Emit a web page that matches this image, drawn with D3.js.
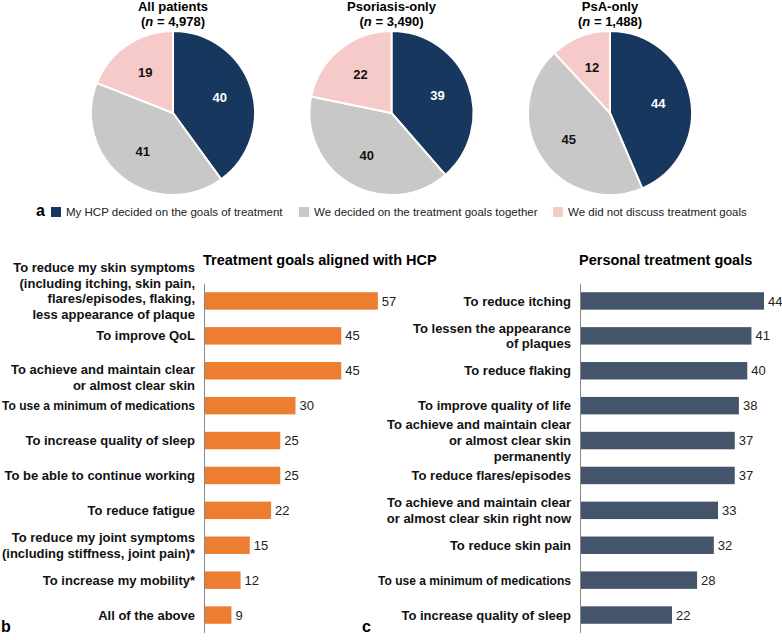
<html>
<head>
<script src="https://d3js.org/d3.v7.min.js"></script>
<style>
body { margin: 0; background: #fff; }
svg { font-family: "Liberation Sans", Arial, sans-serif; }
</style>
</head>
<body>
<svg width="782" height="640"></svg>
<script>
// pie data (percent)
var pieTitles = ["All patients", "Psoriasis-only", "PsA-only"];
var pieN = ["4,978", "3,490", "1,488"];
var pieCategories = ["My HCP decided on the goals of treatment",
                     "We decided on the treatment goals together",
                     "We did not discuss treatment goals"];
var pieAll = [40, 41, 19];
var piePso = [39, 40, 22];
var piePsA = [44, 45, 12];

// panel b
var hcpGoals = ["To reduce my skin symptoms|(including itching, skin pain,|flares/episodes, flaking,|less appearance of plaque",
  "To improve QoL",
  "To achieve and maintain clear|or almost clear skin",
  "To use a minimum of medications",
  "To increase quality of sleep",
  "To be able to continue working",
  "To reduce fatigue",
  "To reduce my joint symptoms|(including stiffness, joint pain)*",
  "To increase my mobility*",
  "All of the above"];
var hcpValues = [57, 45, 45, 30, 25, 25, 22, 15, 12, 9];

// panel c
var personalGoals = ["To reduce itching",
  "To lessen the appearance|of plaques",
  "To reduce flaking",
  "To improve quality of life",
  "To achieve and maintain clear|or almost clear skin|permanently",
  "To reduce flares/episodes",
  "To achieve and maintain clear|or almost clear skin right now",
  "To reduce skin pain",
  "To use a minimum of medications",
  "To increase quality of sleep"];
var personalValues = [44, 41, 40, 38, 37, 37, 33, 32, 28, 22];

var svg = d3.select("svg");
var pieColors = d3.scaleOrdinal().domain(pieCategories).range(["#17375e", "#c8c8c8", "#f7caca"]);
var labelColors = ["#fff", "#111", "#111"];

// ---- pies ----
var pieX = d3.scalePoint().domain(pieTitles).range([173, 610]);
var pieData = [pieAll, piePso, piePsA];
var r = 82;
var pie = d3.pie().sort(null);
var arc = d3.arc().innerRadius(0).outerRadius(r);
var labelArc = d3.arc().innerRadius(r * 0.6).outerRadius(r * 0.6);

pieTitles.forEach(function (t, i) {
  var g = svg.append("g").attr("transform", "translate(" + pieX(t) + ",113)");
  var arcs = pie(pieData[i]);
  g.selectAll("path").data(arcs).enter().append("path")
    .attr("d", arc)
    .attr("fill", function (d, j) { return pieColors(pieCategories[j]); })
    .attr("stroke", "#fff").attr("stroke-width", 2);
  g.selectAll("text.val").data(arcs).enter().append("text")
    .attr("class", "val")
    .attr("transform", function (d) { return "translate(" + labelArc.centroid(d) + ")"; })
    .attr("text-anchor", "middle").attr("dy", "0.35em")
    .attr("font-size", 13).attr("font-weight", "bold")
    .attr("fill", function (d, j) { return labelColors[j]; })
    .text(function (d) { return d.data; });
  g.append("text").attr("y", -102).attr("text-anchor", "middle")
    .attr("font-size", 13).attr("font-weight", "bold").text(t);
  var sub = g.append("text").attr("y", -87).attr("text-anchor", "middle")
    .attr("font-size", 13).attr("font-weight", "bold");
  sub.append("tspan").text("(");
  sub.append("tspan").attr("font-style", "italic").text("n");
  sub.append("tspan").text(" = " + pieN[i] + ")");
});

// legend
svg.append("text").attr("x", 36).attr("y", 216).attr("font-size", 16)
  .attr("font-weight", "bold").text("a");
var legX = [51, 299, 553];
pieCategories.forEach(function (c, i) {
  svg.append("rect").attr("x", legX[i]).attr("y", 207).attr("width", 10).attr("height", 10)
    .attr("fill", pieColors(c));
  svg.append("text").attr("x", legX[i] + 15).attr("y", 216)
    .attr("font-size", 11.5).attr("fill", "#222").text(c);
});

// ---- bar panels ----
function barPanel(cats, vals, x0, maxV, width, color, title, nudge) {
  var y = d3.scaleBand().domain(cats).range([283.5, 632.5]).paddingInner(0.5).paddingOuter(0.25);
  var x = d3.scaleLinear().domain([0, maxV]).range([x0, x0 + width]);

  svg.append("text").attr("x", x0 - 1).attr("y", 265).attr("font-size", 14.5)
    .attr("font-weight", "bold").text(title);

  svg.selectAll(null).data(cats).enter().append("rect")
    .attr("x", x(0)).attr("y", function (d) { return y(d); })
    .attr("width", function (d, i) { return x(vals[i]) - x(0); })
    .attr("height", y.bandwidth()).attr("fill", color);

  svg.selectAll(null).data(cats).enter().append("text")
    .attr("x", function (d, i) { return x(vals[i]) + 4; })
    .attr("y", function (d) { return y(d) + y.bandwidth() / 2; })
    .attr("dy", "0.35em").attr("font-size", 13).attr("fill", "#222")
    .text(function (d, i) { return vals[i]; });

  cats.forEach(function (c, i) {
    var lines = c.split("|");
    var cy = y(c) + y.bandwidth() / 2 + (nudge[i] || 0);
    var t = svg.append("text").attr("text-anchor", "end").attr("font-size", 13)
      .attr("font-weight", "bold").attr("fill", "#111");
    lines.forEach(function (l, k) {
      var ts = t.append("tspan").attr("x", x0 - 9)
        .attr("y", cy + (k - (lines.length - 1) / 2) * 15.8)
        .attr("dy", "0.35em").text(l);
      // squeeze labels that are too wide (as in the original)
      if (ts.node().getComputedTextLength() > 193) {
        ts.attr("textLength", 193).attr("lengthAdjust", "spacingAndGlyphs");
      }
    });
  });

  svg.append("g").attr("transform", "translate(" + x0 + ",0)")
    .call(d3.axisLeft(y).tickSize(0).tickFormat(""))
    .select(".domain").attr("stroke", "#888");
}

barPanel(hcpGoals, hcpValues, 204, 60, 183, "#ed7d31", "Treatment goals aligned with HCP", {0: -10, 2: 7});
barPanel(personalGoals, personalValues, 580, 44, 184, "#44546a", "Personal treatment goals", {});

svg.append("text").attr("x", 1).attr("y", 632).attr("font-size", 16).attr("font-weight", "bold").text("b");
svg.append("text").attr("x", 362).attr("y", 632).attr("font-size", 16).attr("font-weight", "bold").text("c");
</script>
</body>
</html>
